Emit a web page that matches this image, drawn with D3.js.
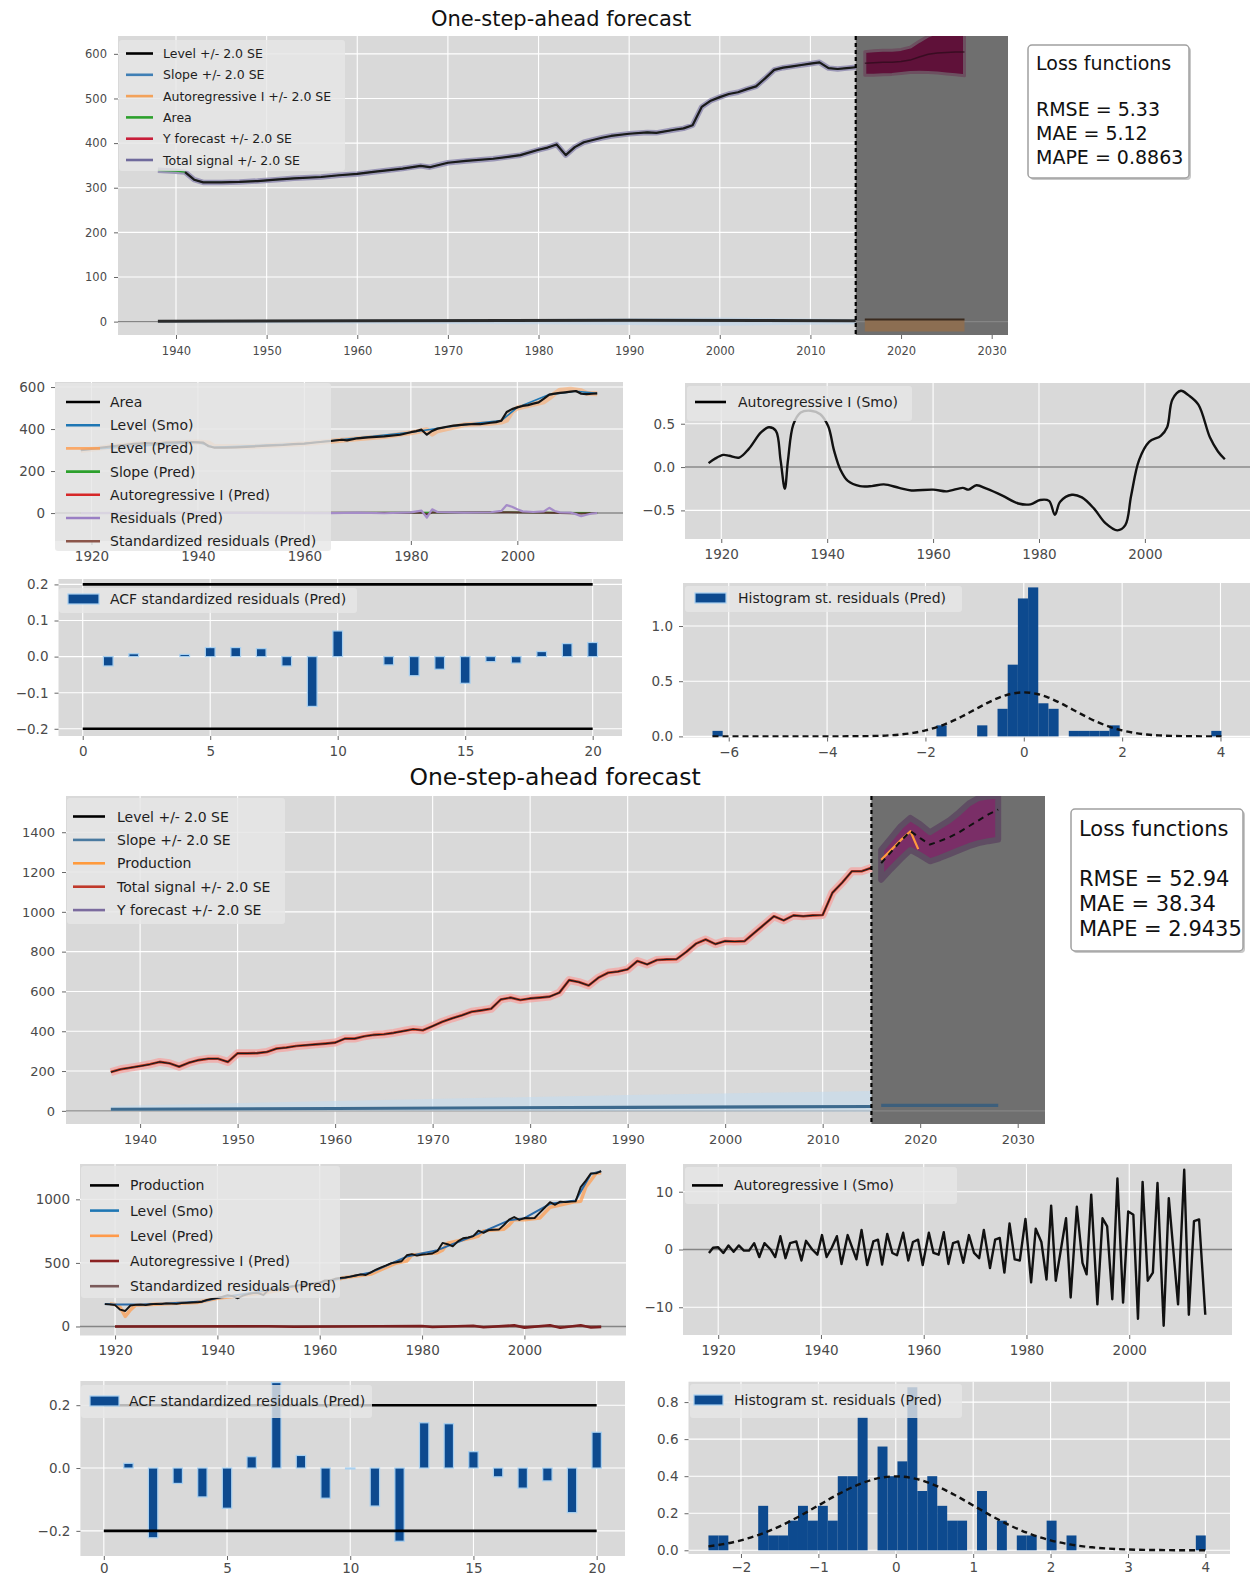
<!DOCTYPE html>
<html><head><meta charset="utf-8">
<script src="https://cdn.jsdelivr.net/npm/d3@7"></script>
<style>
body{margin:0;background:#fff;}
svg text{font-family:"DejaVu Sans",sans-serif;}
</style></head><body>
<svg id="fig" width="1253" height="1581"></svg>
<script>
// ---------- Area model ----------
const areaSeries = [[1918,300],[1920,306],[1922,312],[1924,318],[1926,324],[1928,329],[1930,333],[1932,331],[1934,335],[1936,337],[1938,339],[1940,337],[1941,335],[1942,318],[1943,312],[1945,312],[1947,313],[1949,315],[1951,318],[1953,321],[1956,324],[1958,328],[1960,331],[1962,336],[1965,343],[1967,349],[1968,346],[1970,356],[1972,360],[1975,365],[1978,373],[1980,385],[1981,390],[1982,397],[1983,373],[1984,391],[1985,402],[1987,412],[1988,416],[1990,421],[1992,424],[1993,423],[1995,430],[1996,433],[1997,440],[1998,481],[1999,495],[2000,503],[2001,510],[2002,514],[2003,521],[2004,527],[2005,545],[2006,564],[2007,569],[2008,572],[2009,575],[2010,578],[2011,581],[2012,568],[2013,566],[2014,568],[2015,570]];
const areaLevelPred = [[1918,298],[1925,320],[1930,332],[1935,335],[1940,338],[1942,334],[1943,318],[1950,316],[1960,330],[1965,342],[1970,354],[1975,364],[1980,382],[1982,392],[1983,397],[1984,376],[1985,392],[1990,420],[1995,428],[1997,433],[1998,442],[1999,483],[2000,500],[2003,518],[2005,530],[2006,548],[2007,568],[2008,585],[2010,590],[2011,586],[2012,582],[2013,570],[2015,568]];
const areaLevelSmo = [[1918,300],[1940,337],[1943,313],[1960,331],[1980,385],[1990,421],[1997,440],[2000,503],[2006,564],[2011,580],[2015,570]];
const areaResiduals = [[1918,0],[1940,1],[1965,0],[1970,2],[1975,-1],[1980,3],[1982,12],[1983,-22],[1984,18],[1985,5],[1990,2],[1995,4],[1997,10],[1998,38],[1999,30],[2000,18],[2001,8],[2003,5],[2005,8],[2006,25],[2007,10],[2008,3],[2010,2],[2011,-5],[2012,-15],[2013,-8],[2014,-2],[2015,0]];
const areaSlopePred = [[1918,0.5],[1960,1],[1998,4],[2005,3],[2015,1]];
const areaStdResid = [[1918,0],[1982,2],[1983,-6],[1984,3],[1998,4],[2006,2],[2012,-2],[2015,0]];
const areaSlopeLine = [[1938,1],[1960,2],[1990,3],[2015,2]];
const areaSlopeBandYears = [1938, 1980, 2000, 2015];
const areaSlopeBandLo = [-3, -6, -9, -6];
const areaSlopeBandHi = [3, 6, 9, 6];
const fcYearsA = [2016,2017,2018,2019,2020,2021,2022,2023,2024,2025,2026,2027];
const fcUpperA = [605,607,608,608,610,615,628,640,648,652,655,658];
const fcLowerA = [552,552,553,554,556,558,559,558,557,555,553,551];
const fcMeanA  = [579,580,581,581,583,586,593,599,602,603,604,604];
const fcArYearsA = [2016, 2027];
const fcArLoA = [-22, -22];
const fcArHiA = [5, 5];
const arSmoA = [[1917.6,0.045],[1918.9,0.10],[1920.4,0.14],[1921.5,0.13],[1923.4,0.11],[1925.2,0.21],[1927.5,0.40],[1929,0.46],[1930.3,0.42],[1931.2,0.08],[1932,-0.25],[1932.6,0.08],[1933.6,0.49],[1935,0.63],[1936.9,0.65],[1938.7,0.61],[1940.2,0.47],[1941.3,0.19],[1942.5,-0.03],[1943.9,-0.16],[1946.2,-0.22],[1948.4,-0.22],[1950.7,-0.20],[1953.6,-0.24],[1955.9,-0.27],[1960,-0.26],[1962.6,-0.28],[1965.6,-0.24],[1966.7,-0.26],[1968.2,-0.21],[1970.1,-0.25],[1973.1,-0.33],[1976.1,-0.42],[1978.4,-0.43],[1980.2,-0.38],[1981.9,-0.39],[1983,-0.55],[1984,-0.40],[1986.2,-0.32],[1988.1,-0.35],[1990.4,-0.48],[1992.6,-0.65],[1994.8,-0.73],[1996.3,-0.67],[1997.4,-0.33],[1998.9,0.08],[2000.8,0.29],[2003,0.36],[2004.2,0.46],[2005.2,0.78],[2006.8,0.88],[2008.2,0.83],[2010.1,0.72],[2012.3,0.34],[2013.8,0.18],[2015.1,0.09]];
const acfLags = [1,2,3,4,5,6,7,8,9,10,11,12,13,14,15,16,17,18,19,20];
const acfA = [-0.026,0.008,0.0,0.006,0.025,0.025,0.022,-0.026,-0.138,0.071,0.0,-0.023,-0.053,-0.035,-0.074,-0.014,-0.018,0.014,0.036,0.039];
const histAWidth = 0.207;
const histA = [[-6.33,0.05],[-1.776,0.10],[-0.948,0.10],[-0.534,0.25],[-0.327,0.65],[-0.12,1.25],[0.087,1.35],[0.294,0.30],[0.501,0.25],[0.915,0.05],[1.122,0.05],[1.329,0.05],[1.536,0.05],[1.743,0.10],[3.813,0.05]];
const pdfXA = [-6.33,-4,-3.5,-3,-2.75,-2.5,-2.25,-2,-1.75,-1.5,-1.25,-1,-0.75,-0.5,-0.25,0,0.25,0.5,0.75,1,1.25,1.5,1.75,2,2.25,2.5,2.75,3,3.5,4.02];
const pdfYA = [0,0.0001,0.0009,0.0044,0.0091,0.0175,0.0317,0.054,0.0863,0.1295,0.1826,0.242,0.3011,0.3521,0.3867,0.3989,0.3867,0.3521,0.3011,0.242,0.1826,0.1295,0.0863,0.054,0.0317,0.0175,0.0091,0.0044,0.0009,0.0001];

// ---------- Production model ----------
const prodSeries = [[1918,176],[1919,174],[1920,168],[1921,132],[1922,122],[1923,165],[1924,170],[1925,172],[1926,168],[1927,175],[1928,178],[1929,176],[1930,182],[1931,180],[1932,178],[1933,184],[1934,186],[1935,188],[1936,190],[1937,195],[1938,209],[1939,217],[1940,225],[1941,234],[1942,246],[1943,239],[1944,222],[1945,242],[1946,255],[1947,262],[1948,262],[1949,246],[1950,289],[1951,289],[1952,290],[1953,296],[1954,313],[1955,318],[1956,326],[1957,330],[1958,334],[1959,338],[1960,343],[1961,363],[1962,363],[1963,375],[1964,382],[1965,385],[1966,392],[1967,401],[1968,410],[1969,405],[1970,426],[1971,448],[1972,465],[1973,480],[1974,498],[1975,505],[1976,513],[1977,560],[1978,569],[1979,557],[1980,565],[1981,569],[1982,574],[1983,594],[1984,657],[1985,647],[1986,630],[1987,669],[1988,694],[1989,700],[1990,711],[1991,753],[1992,736],[1993,758],[1994,761],[1995,762],[1996,798],[1997,840],[1998,861],[1999,838],[2000,853],[2001,851],[2002,853],[2003,895],[2004,936],[2005,978],[2006,957],[2007,982],[2008,978],[2009,982],[2010,984],[2011,1096],[2012,1147],[2013,1204],[2014,1204],[2015,1221]];
const prodLevelPred = [[1919,176],[1920,172],[1921,150],[1922,80],[1923,130],[1924,168],[1926,170],[1930,178],[1936,188],[1940,222],[1950,270],[1960,338],[1965,385],[1970,412],[1975,500],[1977,515],[1978,562],[1983,580],[1984,600],[1985,655],[1990,700],[1991,712],[1992,752],[1996,765],[1997,798],[1998,842],[2000,840],[2003,853],[2005,938],[2010,982],[2011,985],[2012,1098],[2013,1150],[2014,1205],[2015,1210]];
const prodLevelSmo = [[1918,176],[1920,172],[1925,172],[1930,180],[1937,196],[1940,224],[1950,285],[1960,345],[1970,425],[1977,550],[1983,600],[1990,712],[1997,835],[2000,852],[2005,965],[2010,990],[2013,1200],[2015,1221]];
const prodArPred = [[1920,0],[1950,2],[1955,-2],[1980,4],[1982,-4],[1990,6],[1992,-6],[1998,9],[2000,-9],[2005,10],[2007,-10],[2011,10],[2013,-8],[2015,-4]];
const prodStdResid = [[1920,0],[1960,1],[1990,-1],[2015,1]];
const prodSlopeLine = [[1937,8],[1960,12],[1990,18],[2015,22]];
const prodSlopeBandYears = [1937, 1960, 1990, 2015];
const prodSlopeBandLo = [0, 0, -2, -4];
const prodSlopeBandHi = [25, 50, 80, 100];
const fcYearsB = [2016,2017,2018,2019,2020,2021,2022,2023,2024,2025,2026,2027,2028];
const fcMeanB  = [1245,1300,1355,1405,1370,1338,1355,1375,1400,1430,1460,1490,1514];
const fcUpperB = [1311,1370,1430,1472,1440,1400,1430,1460,1500,1545,1572,1580,1585];
const fcLowerB = [1161,1215,1265,1311,1285,1254,1270,1290,1310,1330,1345,1355,1363];
const fcSlopeB = [[2016,28],[2028,28]];
const prodTest = [[2016,1262],[2017,1310],[2018,1360],[2019,1405],[2019.8,1315]];
const arSmoB = [[1918.2,-0.6],[1919,0.3],[1920,0.4],[1921,-0.6],[1922,0.7],[1923,-0.4],[1924,0.7],[1925,-0.2],[1926,-0.2],[1927,1.1],[1928,-1.3],[1929,1.1],[1930.2,0],[1931.1,-1.3],[1932.1,2.3],[1933.1,-1.5],[1934,1.1],[1935.2,1.4],[1936.2,-1.9],[1937.1,1.5],[1938.3,0],[1939.3,-0.9],[1940.2,2.5],[1941.1,-1.3],[1942.1,0.3],[1943.1,2.3],[1944,-2.5],[1945.2,2.5],[1946.9,-1.7],[1947.9,3.4],[1949,-2.7],[1950.2,1.4],[1951.1,1.7],[1951.9,-2.6],[1952.9,2.7],[1953.9,-0.6],[1954.8,-1.0],[1956,2.9],[1957,-1.9],[1957.9,1.3],[1958.9,1.7],[1959.8,-2.7],[1961,2.9],[1961.9,-0.6],[1962.9,-0.9],[1963.9,3.0],[1964.8,-2.5],[1965.7,1.1],[1966.7,1.4],[1967.7,-2.3],[1968.8,2.5],[1969.8,-0.6],[1970.8,-1.5],[1971.7,3.4],[1972.9,-3.2],[1973.9,1.7],[1974.8,2.0],[1975.7,-4.0],[1976.7,4.5],[1977.7,-1.7],[1978.7,-1.9],[1979.8,5.3],[1980.9,-5.7],[1981.8,3.6],[1982.9,1.3],[1983.9,-5.2],[1984.8,7.6],[1985.7,-5.4],[1987.7,5.4],[1988.6,-8.3],[1989.8,7.4],[1990.9,-2.3],[1991.7,-4.3],[1992.6,9.5],[1993.8,-9.5],[1994.8,5.4],[1995.7,4.0],[1996.7,-8.6],[1997.7,12.3],[1998.8,-9.2],[1999.8,6.6],[2000.8,6.0],[2001.7,-12.0],[2002.6,11.7],[2003.6,-5.4],[2004.6,-4.0],[2005.5,11.5],[2006.7,-13.2],[2007.7,8.9],[2009.5,-9.5],[2010.7,13.8],[2011.6,-11.3],[2012.6,4.9],[2013.6,5.2],[2014.8,-11.3]];
const acfB = [0.015,-0.222,-0.049,-0.092,-0.128,0.036,0.272,0.04,-0.096,-0.003,-0.121,-0.233,0.144,0.141,0.052,-0.028,-0.064,-0.041,-0.142,0.114];
const histBWidth = 0.1285;
const histB = [[-2.42,0.08],[-2.2915,0.08],[-1.7775,0.24],[-1.649,0.08],[-1.5205,0.08],[-1.392,0.16],[-1.2635,0.24],[-1.135,0.16],[-1.0065,0.24],[-0.878,0.16],[-0.7495,0.40],[-0.621,0.40],[-0.4925,0.72],[-0.2355,0.56],[-0.107,0.40],[0.0215,0.48],[0.15,0.88],[0.2785,0.32],[0.407,0.40],[0.5355,0.24],[0.664,0.16],[0.7925,0.16],[1.0495,0.32],[1.3065,0.16],[1.5635,0.08],[1.692,0.08],[1.949,0.16],[2.206,0.08],[3.8765,0.08]];
const pdfXB = [-2.42,-2.25,-2,-1.75,-1.5,-1.25,-1,-0.75,-0.5,-0.25,0,0.25,0.5,0.75,1,1.25,1.5,1.75,2,2.25,2.5,2.75,3,3.5,4.0];
const pdfYB = [0.0213,0.0317,0.054,0.0863,0.1295,0.1826,0.242,0.3011,0.3521,0.3867,0.3989,0.3867,0.3521,0.3011,0.242,0.1826,0.1295,0.0863,0.054,0.0317,0.0175,0.0091,0.0044,0.0009,0.0001];

const yearTicks10 = [1940,1950,1960,1970,1980,1990,2000,2010,2020,2030];
const yearTicks20 = [1920,1940,1960,1980,2000];
const lagTicks = [0,5,10,15,20];
const forecastStart = 2015;

// ---------- drawing helpers ----------
const BG = '#d9d9d9', LEG = '#e6e6e6', DARK = '#6f6f6f', FONT = '"DejaVu Sans", sans-serif';
const svg = d3.select('#fig');
const defs = svg.append('defs');
let clipN = 0;
const fmtInt = d3.format('d'), fmt1 = d3.format('.1f');

function panel(c) {
  const x = d3.scaleLinear().domain(c.xd).range([c.x0, c.x1]);
  const y = d3.scaleLinear().domain(c.yd).range([c.y1, c.y0]);
  const g = svg.append('g');
  g.append('rect').attr('x', c.x0).attr('y', c.y0).attr('width', c.x1 - c.x0).attr('height', c.y1 - c.y0).attr('fill', BG);
  const gx = g.append('g').attr('stroke', '#fff').attr('stroke-width', 1.1);
  gx.selectAll('line').data(c.xt).join('line').attr('x1', d => x(d)).attr('x2', d => x(d)).attr('y1', c.y0).attr('y2', c.y1);
  const gy = g.append('g').attr('stroke', '#fff').attr('stroke-width', 1.1);
  gy.selectAll('line').data(c.yt).join('line').attr('y1', d => y(d)).attr('y2', d => y(d)).attr('x1', c.x0).attr('x2', c.x1);
  const ax = g.append('g').attr('transform', `translate(0,${c.y1})`)
    .call(d3.axisBottom(x).tickValues(c.xt).tickFormat(c.xf).tickSize(4).tickPadding(c.px));
  const ay = g.append('g').attr('transform', `translate(${c.x0},0)`)
    .call(d3.axisLeft(y).tickValues(c.yt).tickFormat(c.yf).tickSize(4).tickPadding(c.py));
  [ax, ay].forEach(a => {
    a.select('.domain').remove();
    a.selectAll('line').attr('stroke', '#666');
    a.selectAll('text').attr('fill', '#4a4a4a').style('font-size', c.fs + 'px').style('font-family', FONT);
  });
  const id = 'clip' + (clipN++);
  defs.append('clipPath').attr('id', id).append('rect')
    .attr('x', c.x0).attr('y', c.y0).attr('width', c.x1 - c.x0).attr('height', c.y1 - c.y0);
  const plot = g.append('g').attr('clip-path', `url(#${id})`);
  return { x, y, g, plot, c };
}
function drawLine(p, data, color, width, o = {}) {
  const gen = d3.line().x(d => p.x(d[0])).y(d => p.y(d[1])).curve(o.curve || d3.curveLinear);
  return p.plot.append('path').attr('d', gen(data)).attr('fill', 'none')
    .attr('stroke', color).attr('stroke-width', width).attr('stroke-opacity', o.op ?? 1)
    .attr('stroke-dasharray', o.dash || null).attr('stroke-linejoin', 'round');
}
function drawBand(p, years, lo, hi, fill, op, stroke, sw) {
  const rows = years.map((t, i) => [t, lo[i], hi[i]]);
  const gen = d3.area().x(d => p.x(d[0])).y0(d => p.y(d[1])).y1(d => p.y(d[2]));
  return p.plot.append('path').attr('d', gen(rows)).attr('fill', fill).attr('fill-opacity', op)
    .attr('stroke', stroke || 'none').attr('stroke-width', sw || 0).attr('stroke-linejoin', 'round');
}
function zeroLine(p) {
  p.plot.append('line').attr('x1', p.c.x0).attr('x2', p.c.x1).attr('y1', p.y(0)).attr('y2', p.y(0))
    .attr('stroke', '#858585').attr('stroke-width', 1.4);
}
function forecastShade(p) {
  p.plot.append('rect').attr('x', p.x(forecastStart)).attr('y', p.c.y0)
    .attr('width', p.c.x1 - p.x(forecastStart)).attr('height', p.c.y1 - p.c.y0).attr('fill', DARK);
}
function forecastMarker(p) {
  p.plot.append('line').attr('x1', p.x(forecastStart)).attr('x2', p.x(forecastStart))
    .attr('y1', p.c.y0).attr('y2', p.c.y1).attr('stroke', '#000').attr('stroke-width', 2.2).attr('stroke-dasharray', '4,3');
}
function bars(p, xs, vals, w) {
  p.plot.append('g').selectAll('rect').data(xs.map((l, i) => [l, vals[i]])).join('rect')
    .attr('x', d => p.x(d[0] - w / 2)).attr('width', p.x(w) - p.x(0))
    .attr('y', d => p.y(Math.max(0, d[1]))).attr('height', d => Math.abs(p.y(0) - p.y(d[1])))
    .attr('fill', '#0d4a8f').attr('stroke', '#a8d0f0').attr('stroke-width', 1.2);
}
function histBars(p, bins, w) {
  p.plot.append('g').selectAll('rect').data(bins).join('rect')
    .attr('x', d => p.x(d[0])).attr('width', d => p.x(d[0] + w) - p.x(d[0]))
    .attr('y', d => p.y(d[1])).attr('height', d => p.y(0) - p.y(d[1])).attr('fill', '#0d4a8f');
}
function legend(p, L) {
  const g = p.g.append('g');
  g.append('rect').attr('x', L.x).attr('y', L.y).attr('width', L.w).attr('height', L.h).attr('rx', 3)
    .attr('fill', LEG).attr('fill-opacity', 0.8);
  L.rows.forEach((r, i) => {
    const yy = L.r0 + i * L.step;
    if (r.kind === 'patch') {
      g.append('rect').attr('x', L.lx0).attr('y', yy - 5).attr('width', L.lx1 - L.lx0).attr('height', 10)
        .attr('fill', r.color).attr('stroke', '#a8d0f0').attr('stroke-width', 1.2);
    } else {
      g.append('line').attr('x1', L.lx0).attr('x2', L.lx1).attr('y1', yy).attr('y2', yy)
        .attr('stroke', r.color).attr('stroke-width', r.w || 2.6).attr('stroke-opacity', r.op ?? 1);
    }
    g.append('text').attr('x', L.tx).attr('y', yy).attr('dy', '0.36em').attr('fill', '#1e1e1e')
      .style('font-size', L.fs + 'px').text(r.label);
  });
}
function lossBox(x, y, w, h, lines, rowsY, fs) {
  svg.append('rect').attr('x', x + 2).attr('y', y + 2).attr('width', w).attr('height', h).attr('rx', 4).attr('fill', '#c8c8c8');
  svg.append('rect').attr('x', x).attr('y', y).attr('width', w).attr('height', h).attr('rx', 4)
    .attr('fill', '#fff').attr('stroke', '#a0a0a0').attr('stroke-width', 1.5);
  lines.forEach((t, i) => svg.append('text').attr('x', x + 8).attr('y', rowsY[i]).attr('dy', '0.36em')
    .attr('fill', '#111').style('font-size', fs + 'px').text(t));
}
function title(x, y, t, fs) {
  svg.append('text').attr('x', x).attr('y', y).attr('dy', '0.36em').attr('text-anchor', 'middle')
    .attr('fill', '#111').style('font-size', fs + 'px').text(t);
}
const pairs = (xs, ys) => xs.map((v, i) => [v, ys[i]]);
const from = (s, t0) => s.filter(d => d[0] >= t0);

// ================= Area: one-step-ahead forecast =================
title(561, 18, 'One-step-ahead forecast', 21);
const p1 = panel({x0:118, x1:1008, y0:36, y1:335, xd:[1933.6, 2031.8], yd:[-30, 640],
  xt:yearTicks10, yt:[0,100,200,300,400,500,600], xf:fmtInt, yf:fmtInt, fs:11.5, px:8, py:7});
forecastShade(p1);
zeroLine(p1);
drawBand(p1, areaSlopeBandYears, areaSlopeBandLo, areaSlopeBandHi, '#bcd6ec', 0.6);
drawBand(p1, fcArYearsA, fcArLoA, fcArHiA, '#8d6e50', 0.95);
drawLine(p1, [[fcArYearsA[0], fcArHiA[0]], [fcArYearsA[1], fcArHiA[1]]], '#3a2a1e', 2);
drawLine(p1, areaSlopeLine, '#2b2b2b', 3);
drawLine(p1, from(areaSeries, 1938), '#8f8bb0', 5.5, {op:0.85});
drawLine(p1, from(areaSeries, 1938), '#2ca02c', 1.2);
drawLine(p1, from(areaSeries, 1941), '#1a1a1a', 2.2);
drawBand(p1, fcYearsA, fcLowerA, fcUpperA, '#5e0c36', 0.95, '#6c5060', 3);
drawLine(p1, pairs(fcYearsA, fcMeanA), '#2a0a18', 1.5, {op:0.7});
forecastMarker(p1);
legend(p1, {x:119, y:40, w:226, h:131, r0:53.5, step:21.3, lx0:126, lx1:153, tx:163, fs:12.5, rows:[
  {label:'Level +/- 2.0 SE', color:'#000'},
  {label:'Slope +/- 2.0 SE', color:'#3f7fb5'},
  {label:'Autoregressive I +/- 2.0 SE', color:'#f3a25a'},
  {label:'Area', color:'#2ca02c'},
  {label:'Y forecast +/- 2.0 SE', color:'#c81e3a'},
  {label:'Total signal +/- 2.0 SE', color:'#6f6a9c'}]});
lossBox(1028, 45, 161, 133, ['Loss functions', 'RMSE = 5.33', 'MAE = 5.12', 'MAPE = 0.8863'], [63, 109, 133, 157], 19);

// components (predicted / smoothed)
const p2 = panel({x0:55, x1:623, y0:382, y1:541, xd:[1913.15, 2019.85], yd:[-133, 624],
  xt:yearTicks20, yt:[0,200,400,600], xf:fmtInt, yf:fmtInt, fs:13.5, px:6, py:6});
zeroLine(p2);
drawLine(p2, areaSlopePred, '#2ca02c', 1.6);
drawLine(p2, areaStdResid, '#5a3a30', 2);
drawLine(p2, areaResiduals, '#a58cc8', 2.2);
drawLine(p2, areaLevelPred, '#ffa563', 5, {op:0.55});
drawLine(p2, areaLevelSmo, '#1f77b4', 1.6);
drawLine(p2, areaSeries, '#141414', 2.2);
legend(p2, {x:55, y:383, w:276, h:168, r0:402, step:23.2, lx0:66, lx1:100, tx:110, fs:14, rows:[
  {label:'Area', color:'#000'},
  {label:'Level (Smo)', color:'#1f77b4'},
  {label:'Level (Pred)', color:'#ff9a4a', op:0.8},
  {label:'Slope (Pred)', color:'#2ca02c'},
  {label:'Autoregressive I (Pred)', color:'#d62728'},
  {label:'Residuals (Pred)', color:'#9a7fc4'},
  {label:'Standardized residuals (Pred)', color:'#8c564b'}]});

const p3 = panel({x0:685, x1:1250, y0:383, y1:539, xd:[1913.15, 2019.85], yd:[-0.83, 0.97],
  xt:yearTicks20, yt:[-0.5,0,0.5], xf:fmtInt, yf:fmt1, fs:13.5, px:6, py:6});
zeroLine(p3);
drawLine(p3, arSmoA, '#111', 2.4, {curve:d3.curveCatmullRom});
legend(p3, {x:687, y:386, w:225, h:35, r0:402, step:0, lx0:695, lx1:726, tx:738, fs:14, rows:[
  {label:'Autoregressive I (Smo)', color:'#000'}]});

const p4 = panel({x0:58.5, x1:622, y0:579, y1:736, xd:[-0.95, 21.15], yd:[-0.22, 0.215],
  xt:lagTicks, yt:[-0.2,-0.1,0,0.1,0.2], xf:fmtInt, yf:fmt1, fs:13.5, px:6, py:6});
bars(p4, acfLags, acfA, 0.38);
drawLine(p4, [[0,0.2],[20,0.2]], '#000', 2.6);
drawLine(p4, [[0,-0.2],[20,-0.2]], '#000', 2.6);
legend(p4, {x:59, y:588, w:298, h:25, r0:599, step:0, lx0:68, lx1:99, tx:110, fs:14, rows:[
  {label:'ACF standardized residuals (Pred)', color:'#0d4a8f', kind:'patch'}]});

const p5 = panel({x0:683, x1:1250, y0:583, y1:737.5, xd:[-6.93, 4.6], yd:[-0.01, 1.39],
  xt:[-6,-4,-2,0,2,4], yt:[0,0.5,1.0], xf:fmtInt, yf:fmt1, fs:13.5, px:6, py:6});
histBars(p5, histA, histAWidth);
drawLine(p5, pairs(pdfXA, pdfYA), '#111', 2.4, {dash:'6,4', curve:d3.curveMonotoneX});
legend(p5, {x:685, y:586, w:277, h:26, r0:598, step:0, lx0:695, lx1:726, tx:738, fs:14, rows:[
  {label:'Histogram st. residuals (Pred)', color:'#0d4a8f', kind:'patch'}]});

// ================= Production: one-step-ahead forecast =================
title(555, 777, 'One-step-ahead forecast', 23.5);
const p6 = panel({x0:66, x1:1045, y0:796, y1:1124, xd:[1932.4, 2032.8], yd:[-66, 1582],
  xt:yearTicks10, yt:[0,200,400,600,800,1000,1200,1400], xf:fmtInt, yf:fmtInt, fs:13, px:7, py:7});
forecastShade(p6);
zeroLine(p6);
drawBand(p6, prodSlopeBandYears, prodSlopeBandLo, prodSlopeBandHi, '#c2dcf0', 0.55);
drawLine(p6, prodSlopeLine, '#3d6a8e', 3.2);
drawLine(p6, fcSlopeB, '#3d5f7c', 3.2);
drawLine(p6, from(prodSeries, 1937), '#f4a3a0', 8, {op:0.75});
drawLine(p6, from(prodSeries, 1937), '#ff8c2a', 2);
drawLine(p6, from(prodSeries, 1937), '#c0392b', 2.6);
drawLine(p6, from(prodSeries, 1937), '#1a1a1a', 1.2);
drawBand(p6, fcYearsB, fcLowerB, fcUpperB, '#7a2a66', 0.95, '#5f4d63', 6);
drawLine(p6, prodTest, '#ff9a3c', 2.2);
drawLine(p6, pairs(fcYearsB, fcMeanB), '#111', 2, {dash:'6,5'});
forecastMarker(p6);
legend(p6, {x:67, y:798, w:218, h:126, r0:816.5, step:23.4, lx0:73, lx1:105, tx:117, fs:14, rows:[
  {label:'Level +/- 2.0 SE', color:'#000'},
  {label:'Slope +/- 2.0 SE', color:'#4a7aa0'},
  {label:'Production', color:'#ff9a3c'},
  {label:'Total signal +/- 2.0 SE', color:'#c0392b'},
  {label:'Y forecast +/- 2.0 SE', color:'#7b6b9e'}]});
lossBox(1071, 809, 172, 142, ['Loss functions', 'RMSE = 52.94', 'MAE = 38.34', 'MAPE = 2.9435'], [828, 878, 903, 928], 21);

const p7 = panel({x0:80, x1:626, y0:1164, y1:1335.5, xd:[1913.15, 2019.85], yd:[-71, 1278],
  xt:yearTicks20, yt:[0,500,1000], xf:fmtInt, yf:fmtInt, fs:13.5, px:6, py:6});
zeroLine(p7);
drawLine(p7, prodStdResid, '#7a5a55', 2);
drawLine(p7, prodArPred, '#7a1f1f', 2.6);
drawLine(p7, prodLevelPred, '#ff9a4a', 3.5, {op:0.7});
drawLine(p7, prodLevelSmo, '#2a6aa8', 2);
drawLine(p7, prodSeries, '#141414', 1.9);
legend(p7, {x:81, y:1166, w:259, h:132, r0:1185.4, step:25.2, lx0:90, lx1:119, tx:130, fs:14, rows:[
  {label:'Production', color:'#000'},
  {label:'Level (Smo)', color:'#1f77b4'},
  {label:'Level (Pred)', color:'#ff9a4a'},
  {label:'Autoregressive I (Pred)', color:'#8b2323'},
  {label:'Standardized residuals (Pred)', color:'#7a5a5a'}]});

const p8 = panel({x0:683, x1:1232, y0:1164, y1:1335, xd:[1913.15, 2020], yd:[-14.8, 14.8],
  xt:yearTicks20, yt:[-10,0,10], xf:fmtInt, yf:fmtInt, fs:13.5, px:6, py:6});
zeroLine(p8);
drawLine(p8, arSmoB, '#111', 2.4);
legend(p8, {x:685, y:1167, w:272, h:37, r0:1185.4, step:0, lx0:692, lx1:723, tx:734, fs:14, rows:[
  {label:'Autoregressive I (Smo)', color:'#000'}]});

const p9 = panel({x0:80.4, x1:625, y0:1381, y1:1556, xd:[-0.95, 21.15], yd:[-0.28, 0.277],
  xt:lagTicks, yt:[-0.2,0,0.2], xf:fmtInt, yf:fmt1, fs:13.5, px:3, py:6});
bars(p9, acfLags, acfB, 0.38);
drawLine(p9, [[0,0.2],[20,0.2]], '#000', 2.6);
drawLine(p9, [[0,-0.2],[20,-0.2]], '#000', 2.6);
legend(p9, {x:81, y:1385, w:291, h:33, r0:1401, step:0, lx0:90, lx1:119, tx:129, fs:14, rows:[
  {label:'ACF standardized residuals (Pred)', color:'#0d4a8f', kind:'patch'}]});

const p10 = panel({x0:688.5, x1:1230, y0:1381.7, y1:1554, xd:[-2.678, 4.318], yd:[-0.02, 0.91],
  xt:[-2,-1,0,1,2,3,4], yt:[0,0.2,0.4,0.6,0.8], xf:fmtInt, yf:fmt1, fs:13.5, px:4, py:6});
histBars(p10, histB, histBWidth);
drawLine(p10, pairs(pdfXB, pdfYB), '#111', 2.4, {dash:'6,4', curve:d3.curveMonotoneX});
legend(p10, {x:690, y:1384, w:272, h:34, r0:1400, step:0, lx0:694, lx1:723, tx:734, fs:14, rows:[
  {label:'Histogram st. residuals (Pred)', color:'#0d4a8f', kind:'patch'}]});
</script>
</body></html>
